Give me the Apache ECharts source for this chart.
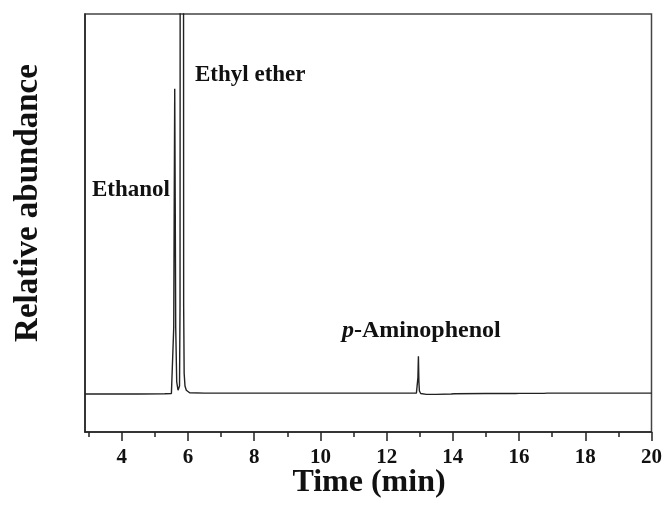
<!DOCTYPE html>
<html>
<head>
<meta charset="utf-8">
<script src="https://cdn.jsdelivr.net/npm/echarts@6/dist/echarts.min.js"></script>
<style>html,body{margin:0;padding:0;background:#fff;}#c{width:665px;height:514px;}</style>
</head>
<body>
<div id="c"></div>
<script>
// Time (min)
const times = [2.89, 3.5, 4.5, 5.3, 5.50, 5.54, 5.57, 5.585, 5.600, 5.615, 5.63, 5.66, 5.70, 5.725, 5.745, 5.760, 5.770, 5.860, 5.870, 5.885, 5.91, 5.95, 6.05, 6.5, 7.50, 7.55, 7.60, 8.5, 10, 11.5, 12.5, 12.90, 12.93, 12.945, 12.96, 12.975, 12.99, 13.03, 13.2, 13.5, 13.95, 14.0, 14.05, 15.0, 15.9, 15.95, 16.0, 16.75, 16.8, 16.85, 18, 20];
// Relative abundance (arbitrary units)
const abundance = [9.1, 9.1, 9.1, 9.15, 9.2, 9.6, 25, 55, 82.1, 55, 25, 12, 10, 9.8, 11, 30, 220, 220, 30, 14, 11, 10, 9.4, 9.3, 9.3, 9.6, 9.3, 9.3, 9.3, 9.3, 9.3, 9.3, 9.7, 13, 18.1, 12, 9.8, 9.2, 9.0, 9.0, 9.1, 9.3, 9.15, 9.2, 9.2, 9.35, 9.25, 9.25, 9.45, 9.3, 9.3, 9.3];
const majorTicks = [4, 6, 8, 10, 12, 14, 16, 18, 20];
const minorTicks = [3, 5, 7, 9, 11, 13, 15, 17, 19];
const peakLabels = ['Ethyl ether', 'Ethanol', 'p-Aminophenol'];

const FONT = "'Liberation Serif', 'Times New Roman', serif";
const data = times.map((t, i) => [t, abundance[i]]);

const chart = echarts.init(document.getElementById('c'), null, {renderer: 'canvas'});
chart.setOption({
  animation: false,
  backgroundColor: '#fff',
  grid: {left: 85, right: 12, top: 14, bottom: 82, show: true, borderColor: '#444', borderWidth: 1.5, backgroundColor: 'transparent'},
  xAxis: [{
    type: 'value', min: 2.89, max: 20, position: 'bottom',
    axisLine: {show: true, onZero: false, lineStyle: {color: '#222', width: 1.5}},
    axisTick: {show: true, length: 9, customValues: majorTicks, lineStyle: {color: '#222', width: 1.5}},
    axisLabel: {show: true, customValues: majorTicks, margin: 15, color: '#111', fontFamily: FONT, fontWeight: 'bold', fontSize: 21},
    splitLine: {show: false}
  }, {
    type: 'value', min: 2.89, max: 20, position: 'bottom',
    axisLine: {show: false, onZero: false},
    axisTick: {show: true, length: 5, customValues: minorTicks, lineStyle: {color: '#222', width: 1.5}},
    axisLabel: {show: false},
    splitLine: {show: false}
  }],
  yAxis: {
    type: 'value', min: 0, max: 100,
    axisLine: {show: true, onZero: false, lineStyle: {color: '#222', width: 1.5}},
    axisTick: {show: false}, axisLabel: {show: false}, splitLine: {show: false}
  },
  series: [{
    type: 'line', xAxisIndex: 0, data: data, showSymbol: false, symbol: 'none',
    clip: true, lineStyle: {color: '#222', width: 1.4}
  }],
  graphic: [
    {type: 'text', x: 28, y: 203, rotation: Math.PI / 2,
      style: {text: 'Relative abundance', font: "bold 33px " + FONT, fill: '#111', align: 'center', verticalAlign: 'middle'}},
    {type: 'text', x: 369, y: 483,
      style: {text: 'Time (min)', font: "bold 32px " + FONT, fill: '#111', align: 'center', verticalAlign: 'middle'}},
    {type: 'text', x: 195, y: 75,
      style: {text: peakLabels[0], font: "bold 23px " + FONT, fill: '#111', align: 'left', verticalAlign: 'middle'}},
    {type: 'text', x: 92, y: 190,
      style: {text: peakLabels[1], font: "bold 23px " + FONT, fill: '#111', align: 'left', verticalAlign: 'middle'}},
    {type: 'text', x: 342, y: 331,
      style: {text: '{i|p}{b|-Aminophenol}', align: 'left', verticalAlign: 'middle',
        rich: {
          i: {font: "italic bold 24px " + FONT, fill: '#111', color: '#111'},
          b: {font: "bold 24px " + FONT, fill: '#111', color: '#111'}
        }}}
  ]
});
</script>
</body>
</html>
